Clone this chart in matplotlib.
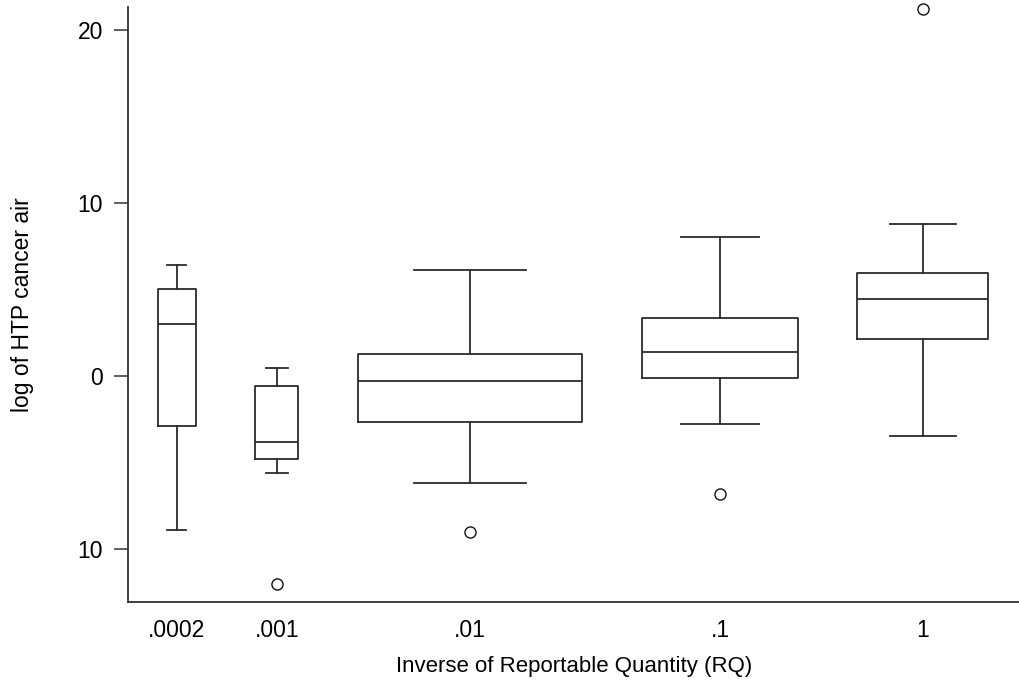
import matplotlib.pyplot as plt

plt.rcParams['font.family'] = ['Liberation Sans', 'DejaVu Sans']

# groups on the x axis
rq_labels = ['.0002', '.001', '.01', '.1', '1']

# box summaries per group: lower whisker, Q1, median, Q3, upper whisker
whis_lo = [-8.9, -5.6, -6.2, -2.8, -3.45]
q1 = [-2.9, -4.8, -2.65, -0.12, 2.15]
median = [3.0, -3.8, -0.3, 1.4, 4.45]
q3 = [5.0, -0.6, 1.27, 3.37, 5.97]
whis_hi = [6.4, 0.47, 6.1, 8.05, 8.75]
outliers = [[], [-12.0], [-9.0], [-6.8], [21.2]]

y_ticks = [20, 10, 0, -10]
y_tick_labels = ['20', '10', '0', '10']

# layout of the boxes along the axis (figure pixel units)
positions = [177, 277, 470, 720, 923]
widths = [38, 43, 224, 156, 131]

stats = []
for i, name in enumerate(rq_labels):
    stats.append(dict(label=name, whislo=whis_lo[i], q1=q1[i], med=median[i],
                      q3=q3[i], whishi=whis_hi[i], fliers=outliers[i]))

fig = plt.figure(figsize=(10.2, 6.83), dpi=100)
ax = fig.add_axes([128 / 1020, (683 - 602) / 683, 1 - 128 / 1020, (602 - 7) / 683])

line_col = '#2b2b2b'
lw = 1.3
parts = ax.bxp(stats, positions=positions, widths=widths,
               capwidths=[w / 2 for w in widths],
               boxprops=dict(color=line_col, linewidth=lw),
               medianprops=dict(color=line_col, linewidth=lw),
               whiskerprops=dict(color=line_col, linewidth=lw),
               capprops=dict(color=line_col, linewidth=lw),
               flierprops=dict(marker='o', markersize=8, markerfacecolor='none',
                               markeredgecolor='#111111', markeredgewidth=1.0))
for fl in parts['fliers']:
    fl.set_clip_on(False)

ax.set_xlim(128, 1020)
ax.set_ylim(-13.05, 21.3)

ax.set_yticks(y_ticks)
ax.set_yticklabels(y_tick_labels)
ax.set_xticks(positions)
ax.set_xticklabels(rq_labels)

for side in ['top', 'right']:
    ax.spines[side].set_visible(False)
for side in ['left', 'bottom']:
    ax.spines[side].set_color('#333333')
    ax.spines[side].set_linewidth(1.3)

ax.tick_params(axis='y', length=10, width=1.1, color='#333333',
               labelsize=16.5, pad=8)
ax.tick_params(axis='x', length=0, labelsize=16.5, pad=12)

ax.set_ylabel('log of HTP cancer air', fontsize=16.5, labelpad=31)
ax.set_xlabel('Inverse of Reportable Quantity (RQ)', fontsize=16, labelpad=10)

fig.savefig('out.png', dpi=100)
